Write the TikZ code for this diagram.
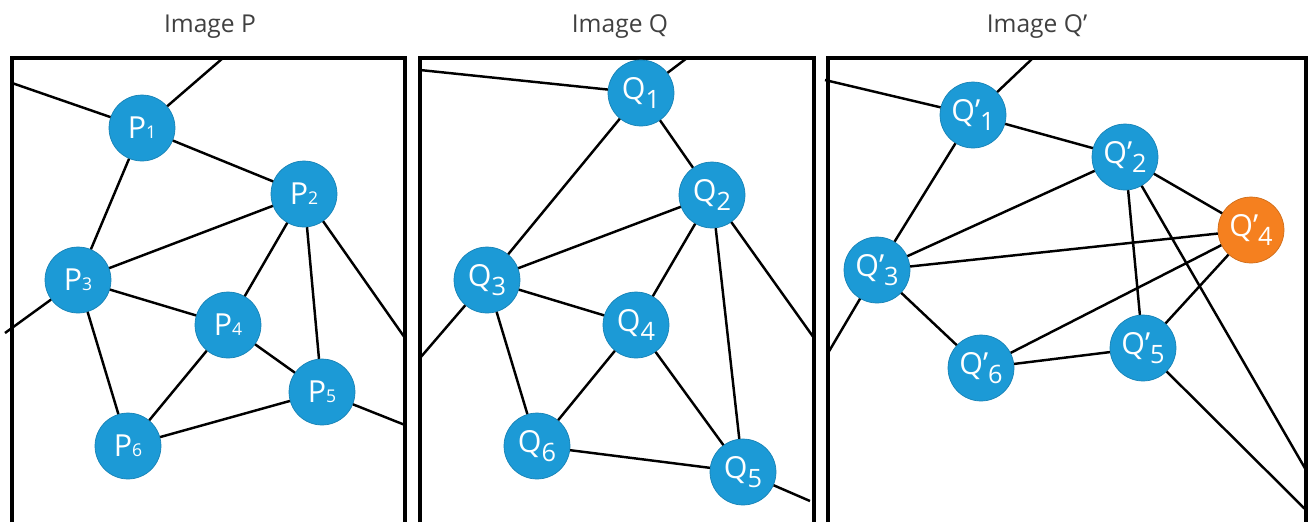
\documentclass[tikz,border=0pt]{standalone}
\usepackage{fontspec}
\setmainfont{Open Sans}
\definecolor{nodeblue}{HTML}{1C9AD6}
\definecolor{nodeorange}{HTML}{F5801F}
\definecolor{titlegray}{HTML}{404040}
\newcommand{\plab}[1]{P{\normalsize #1}}
\newcommand{\qlab}[1]{Q\raisebox{-0.3em}{\Large #1}}
\newcommand{\qplab}[1]{Q’\raisebox{-0.3em}{\Large #1}}
\begin{document}
\begin{tikzpicture}[x=0.02cm,y=-0.02cm,
        vertex/.style={circle,fill=nodeblue,draw=nodeblue!85!black,line width=0.4pt,
                       minimum size=1.32cm,inner sep=0pt,text=white,font=\LARGE},
        changed/.style={vertex,fill=nodeorange,draw=nodeorange!85!black},
        frame/.style={line width=2pt},
        edge/.style={line width=1.4pt},
        title/.style={text=titlegray,font=\fontsize{14}{16}\selectfont}]
    \useasboundingbox (0,0) rectangle (1309,522);
    \clip (0,0) rectangle (1309,522);
    % Titulos y marcos
    \node[title] (tP) at (210,27) {Image P};
    \node[title] (tQ) at (620,27) {Image Q};
    \node[title] (tQp) at (1037,27) {Image Q’};
    \draw[frame] (12,522) -- (12,58) -- (405,58) -- (405,522);
    \draw[frame] (420,522) -- (420,58) -- (814,58) -- (814,522);
    \draw[frame] (828,522) -- (828,58) -- (1306,58) -- (1306,522);

    % Imagen P
    \node[vertex] (p1) at (142,128) {\plab{1}};
    \node[vertex] (p2) at (304,194) {\plab{2}};
    \node[vertex] (p3) at (78,280) {\plab{3}};
    \node[vertex] (p4) at (228,325) {\plab{4}};
    \node[vertex] (p5) at (322,392) {\plab{5}};
    \node[vertex] (p6) at (128,446) {\plab{6}};
    \coordinate (pa) at (12,83);
    \coordinate (pb) at (223,58);
    \coordinate (pc) at (405,338);
    \coordinate (pd) at (5,333);
    \coordinate (pe) at (405,425);
    \draw[edge] (pa) -- (p1) -- (pb);
    \draw[edge] (p1) -- (p2) -- (p3) -- (p1);
    \draw[edge] (p2) -- (p4) -- (p3) -- (p6) -- (p4) -- (p5) -- (p2) -- (pc);
    \draw[edge] (p3) -- (pd);
    \draw[edge] (p6) -- (p5) -- (pe);

    % Imagen Q
    \node[vertex] (q1) at (641,93) {\qlab{1}};
    \node[vertex] (q2) at (712,195) {\qlab{2}};
    \node[vertex] (q3) at (487,280) {\qlab{3}};
    \node[vertex] (q4) at (636,325) {\qlab{4}};
    \node[vertex] (q5) at (743,472) {\qlab{5}};
    \node[vertex] (q6) at (537,446) {\qlab{6}};
    \coordinate (qa) at (420,70);
    \coordinate (qb) at (687,58);
    \coordinate (qc) at (814,338);
    \coordinate (qd) at (420,358);
    \coordinate (qe) at (810,501);
    \draw[edge] (qa) -- (q1) -- (qb);
    \draw[edge] (q1) -- (q2) -- (q3) -- (q1);
    \draw[edge] (q2) -- (q4) -- (q3) -- (q6) -- (q4) -- (q5) -- (q2) -- (qc);
    \draw[edge] (q3) -- (qd);
    \draw[edge] (q6) -- (q5) -- (qe);

    % Imagen Q'
    \node[vertex] (r1) at (973,115) {\qplab{1}};
    \node[vertex] (r2) at (1125,157) {\qplab{2}};
    \node[vertex] (r3) at (877,270) {\qplab{3}};
    \node[changed] (r4) at (1251,230) {\qplab{4}};
    \node[vertex] (r5) at (1143,348) {\qplab{5}};
    \node[vertex] (r6) at (981,368) {\qplab{6}};
    \coordinate (ra) at (825,80);
    \coordinate (rb) at (1033,58);
    \coordinate (rc) at (1306,470);
    \coordinate (rd) at (828,353);
    \coordinate (re) at (1306,510);
    \draw[edge] (ra) -- (r1) -- (rb);
    \draw[edge] (r1) -- (r2) -- (r3) -- (r1);
    \draw[edge] (r2) -- (r4) -- (r3) -- (r6) -- (r4) -- (r5) -- (r2) -- (rc);
    \draw[edge] (r3) -- (rd);
    \draw[edge] (r6) -- (r5) -- (re);
\end{tikzpicture}
\end{document}
